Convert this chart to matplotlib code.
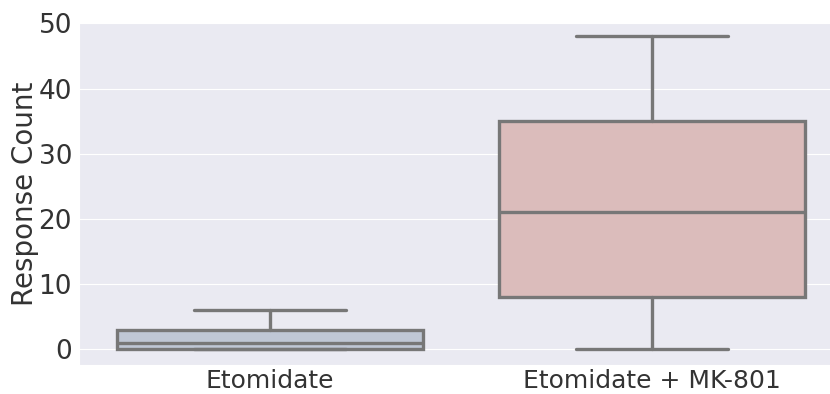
import matplotlib
matplotlib.use('Agg')
import matplotlib.pyplot as plt
import seaborn as sns

groups = ['Etomidate', 'Etomidate + MK-801']
# five-number summaries: whisker low, q1, median, q3, whisker high
whislo = [0, 0]
q1 = [0, 8]
med = [1, 21]
q3 = [3, 35]
whishi = [6, 48]
fills = ['#bfc7d5', '#dbbcbb']

sns.set_style('darkgrid')
plt.rcParams['font.family'] = ['DejaVu Sans']

fig = plt.figure(figsize=(8.3, 3.94), dpi=100)
ax = fig.add_axes([79 / 830, 29 / 394, 764 / 830, 343 / 394])

stats = []
for i, g in enumerate(groups):
    stats.append({'label': g, 'whislo': whislo[i], 'q1': q1[i], 'med': med[i],
                  'q3': q3[i], 'whishi': whishi[i], 'fliers': []})

edge = '#777777'
bp = ax.bxp(stats, positions=range(len(groups)), widths=0.8, patch_artist=True,
            showfliers=False,
            boxprops=dict(edgecolor=edge, linewidth=2.4),
            whiskerprops=dict(color=edge, linewidth=2.4),
            capprops=dict(color=edge, linewidth=2.4),
            medianprops=dict(color=edge, linewidth=2.4))
for patch, c in zip(bp['boxes'], fills):
    patch.set_facecolor(c)

ax.set_xlim(-0.5, 1.5)
ax.set_ylim(-2.4, 50.2)
ax.set_yticks([0, 10, 20, 30, 40, 50])
ax.grid(axis='x', visible=False)
ax.grid(axis='y', linewidth=0.8)
ax.set_ylabel('Response Count', fontsize=20, color='#333333', labelpad=0)
ax.tick_params(axis='y', labelsize=19, colors='#333333', length=0, pad=5)
ax.tick_params(axis='x', labelsize=18, colors='#333333', length=0, pad=3)

fig.savefig('out.png', dpi=100)
